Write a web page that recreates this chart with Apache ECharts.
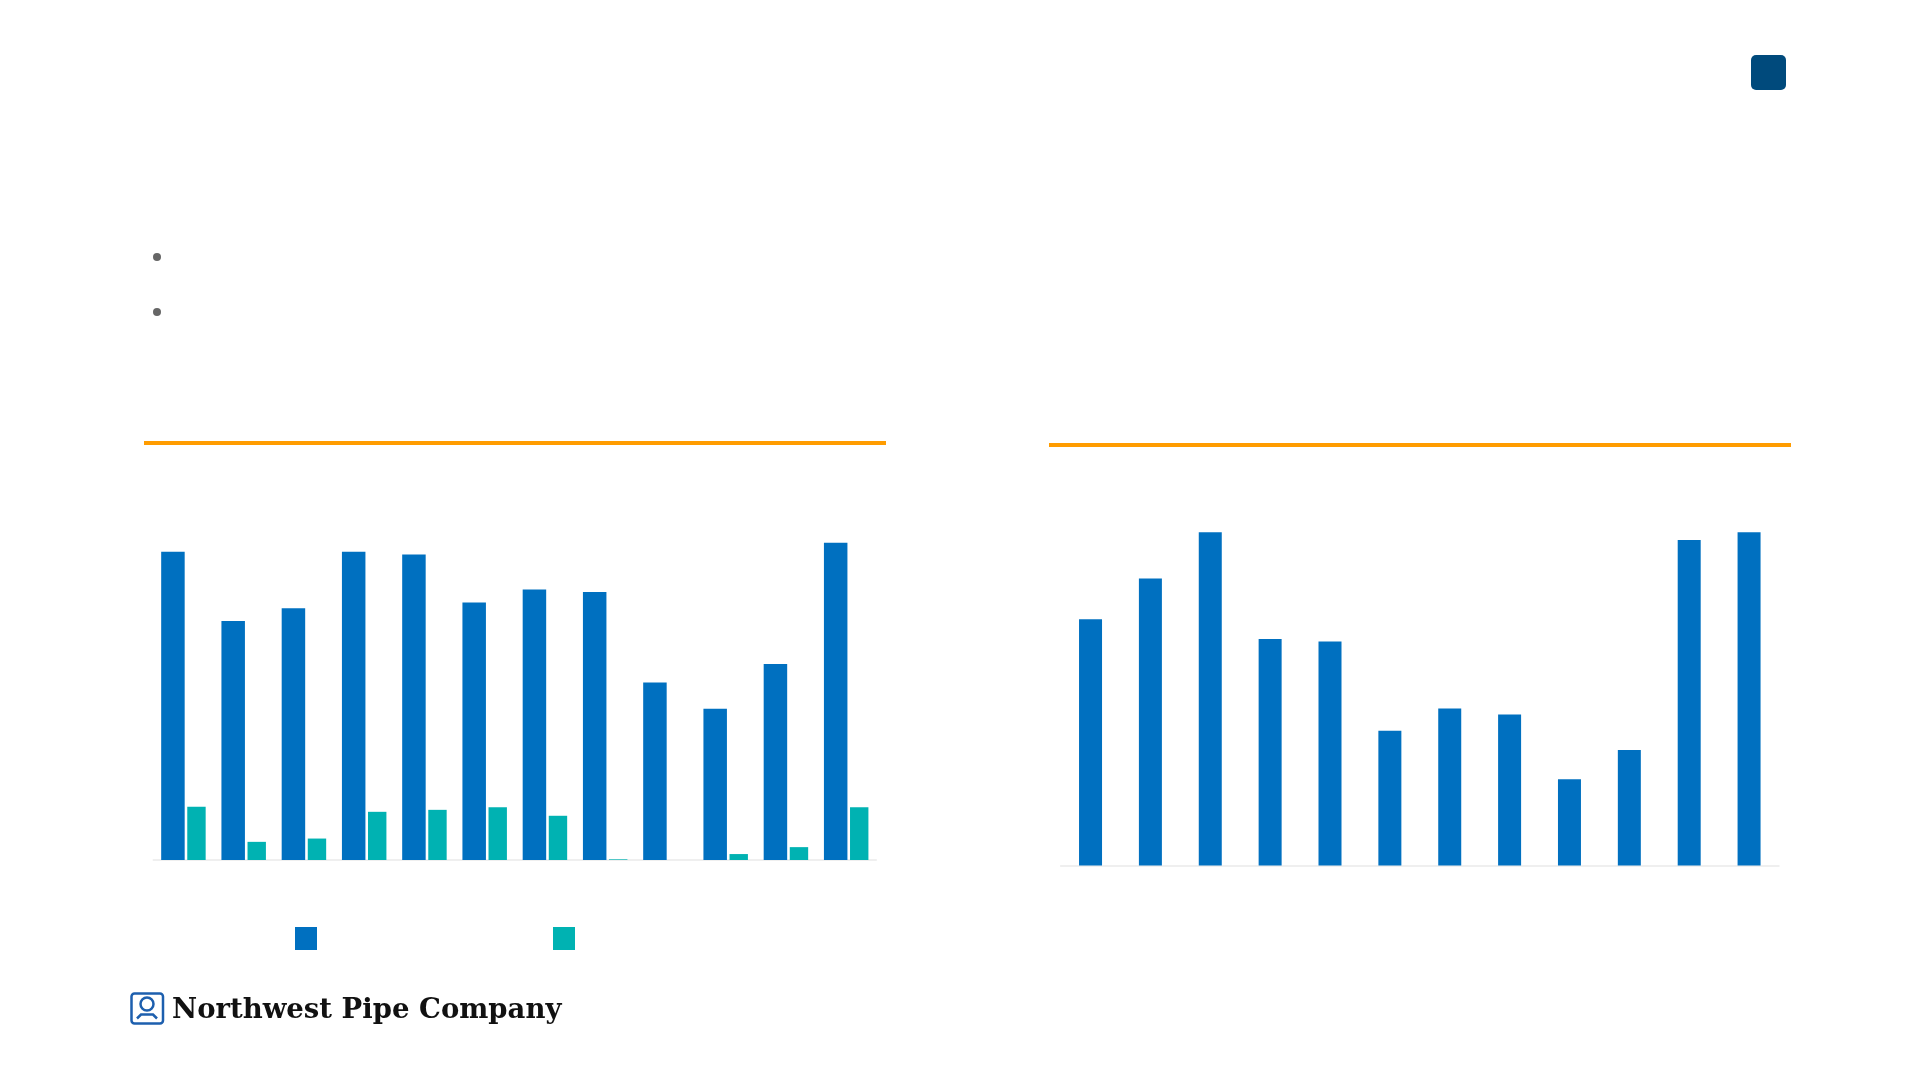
<!DOCTYPE html>
<html>
<head>
<meta charset="utf-8">
<script src="https://cdn.jsdelivr.net/npm/echarts@6/dist/echarts.min.js"></script>
<style>
  html, body { margin: 0; padding: 0; background: #fff; }
  #chart { width: 1919px; height: 1080px; }
</style>
</head>
<body>
<div id="chart"></div>
<script>
// categories (labels are not shown on the slide)
const periods = ['Q1 21', 'Q2 21', 'Q3 21', 'Q4 21', 'Q1 22', 'Q2 22', 'Q3 22', 'Q4 22', 'Q1 23', 'Q2 23', 'Q3 23', 'Q4 23']

// left chart
const netSales = [93.4, 72.4, 76.3, 93.4, 92.6, 78.0, 82.0, 81.2, 53.8, 45.8, 59.4, 96.1]
const grossProfit = [16.1, 5.5, 6.5, 14.6, 15.2, 16.0, 13.4, 0.2, 0, 1.8, 3.9, 16.0]

// right chart
const backlog = [72.4, 84.4, 98.0, 66.6, 65.9, 39.6, 46.2, 44.4, 25.4, 34.0, 95.7, 98.0]

const color = {
  blue: '#0070c0',
  teal: '#00b2b2',
  orange: '#ff9c00',
  navy: '#004a7c',
  axis: '#eaeaea'
}

const myChart = echarts.init(document.getElementById('chart'))

function catAxis(gridIndex) {
  return {
    type: 'category',
    gridIndex: gridIndex,
    data: periods,
    axisLine: { show: true, lineStyle: { color: color.axis, width: 1.5 } },
    axisTick: { show: false },
    axisLabel: { show: false }
  }
}

function valAxis(gridIndex) {
  return {
    type: 'value',
    gridIndex: gridIndex,
    min: 0,
    max: 100,
    show: false,
    splitLine: { show: false }
  }
}

const option = {
  backgroundColor: '#fff',
  animation: false,
  grid: [
    { left: 153.3, top: 530, width: 723, height: 330 },
    { left: 1060.6, top: 525.5, width: 718.4, height: 340 }
  ],
  xAxis: [catAxis(0), catAxis(1)],
  yAxis: [valAxis(0), valAxis(1)],
  legend: [
    {
      data: ['Net Sales'],
      left: 290, top: 922,
      icon: 'rect',
      itemWidth: 22, itemHeight: 23,
      formatter: function () { return '' },
      selectedMode: false
    },
    {
      data: ['Gross Profit'],
      left: 548, top: 922,
      icon: 'rect',
      itemWidth: 22, itemHeight: 23,
      formatter: function () { return '' },
      selectedMode: false
    }
  ],
  series: [
    {
      name: 'Net Sales',
      type: 'bar',
      xAxisIndex: 0, yAxisIndex: 0,
      data: netSales,
      barWidth: 23.5,
      barGap: '11%',
      itemStyle: { color: color.blue }
    },
    {
      name: 'Gross Profit',
      type: 'bar',
      xAxisIndex: 0, yAxisIndex: 0,
      data: grossProfit,
      barWidth: 18.4,
      itemStyle: { color: color.teal }
    },
    {
      name: 'Backlog',
      type: 'bar',
      xAxisIndex: 1, yAxisIndex: 1,
      data: backlog,
      barWidth: 23,
      itemStyle: { color: color.blue }
    }
  ],
  graphic: [
    // orange rules over each chart
    { type: 'rect', shape: { x: 144, y: 441, width: 742, height: 4 }, style: { fill: color.orange } },
    { type: 'rect', shape: { x: 1049, y: 443, width: 742, height: 4 }, style: { fill: color.orange } },
    // page marker top right
    { type: 'rect', shape: { x: 1751, y: 55, width: 35, height: 35, r: 5 }, style: { fill: color.navy } },
    // bullets
    { type: 'circle', shape: { cx: 157, cy: 257, r: 4 }, style: { fill: '#666' } },
    { type: 'circle', shape: { cx: 157, cy: 312, r: 4 }, style: { fill: '#666' } },
    // logo
    { type: 'rect', shape: { x: 131.5, y: 993.5, width: 31.5, height: 30, r: 3 }, style: { fill: 'none', stroke: '#1d5fae', lineWidth: 2.5 } },
    { type: 'circle', shape: { cx: 147, cy: 1004, r: 6.5 }, style: { fill: 'none', stroke: '#1d5fae', lineWidth: 2.5 } },
    { type: 'polyline', shape: { points: [[137, 1018.5], [141, 1014.5], [153, 1014.5], [157, 1018.5]] }, style: { fill: 'none', stroke: '#1d5fae', lineWidth: 2.5 } },
    {
      type: 'text', left: 172, top: 997,
      style: { text: 'Northwest Pipe Company', fill: '#111', font: 'bold 27.5px "DejaVu Serif"' }
    }
  ]
}

myChart.setOption(option)
window.addEventListener('resize', function () {
  myChart.resize()
})
</script>
</body>
</html>
